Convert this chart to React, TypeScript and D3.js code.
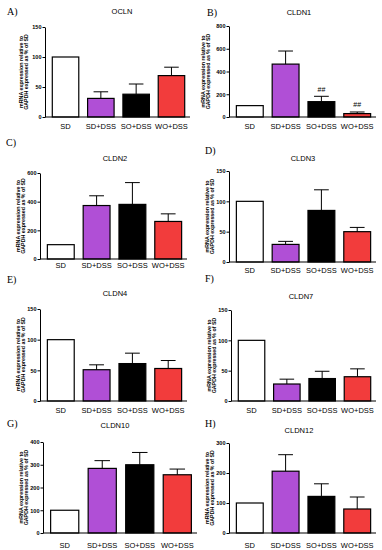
import React, { useEffect, useRef } from 'react'
import * as d3 from 'd3'

// groups and values
const groups = ['SD', 'SD+DSS', 'SO+DSS', 'WO+DSS']
const genes = ['OCLN', 'CLDN1', 'CLDN2', 'CLDN3', 'CLDN4', 'CLDN7', 'CLDN10', 'CLDN12']
const letters = ['A)', 'B)', 'C)', 'D)', 'E)', 'F)', 'G)', 'H)']
const means = [
  [100, 31, 38, 69],
  [100, 465, 135, 30],
  [100, 373, 381, 262],
  [100, 29, 85, 50],
  [100, 51, 61, 53],
  [100, 28, 37, 40],
  [100, 284, 300, 256],
  [100, 206, 122, 80]
]
const errs = [
  [0, 11, 17, 14],
  [0, 115, 47, 14],
  [0, 68, 152, 53],
  [0, 5, 34, 7],
  [0, 8, 17, 13],
  [0, 8, 12, 13],
  [0, 34, 54, 25],
  [0, 55, 42, 40]
]
const yMax = [150, 800, 600, 150, 150, 150, 400, 300]
const yStep = [50, 200, 200, 50, 50, 50, 100, 100]
const marks = [
  ['', '', '', ''],
  ['', '', '##', '##'],
  ['', '', '', ''],
  ['', '', '', ''],
  ['', '', '', ''],
  ['', '', '', ''],
  ['', '', '', ''],
  ['', '', '', '']
]

const colors = ['#ffffff', '#b04fd6', '#000000', '#f23c3c']

// where each panel sits on the page
const layout = [
  { lx: 7, ly: 11, tx: 122, ty: 11, x0: 45, x1: 190, yT: 27, yB: 117, labY: 126, ylx: 21 },
  { lx: 207, ly: 12, tx: 299, ty: 12, x0: 229, x1: 376, yT: 26, yB: 117, labY: 126, ylx: 203 },
  { lx: 6, ly: 142, tx: 115, ty: 158, x0: 40, x1: 187, yT: 173, yB: 259, labY: 265, ylx: 18 },
  { lx: 205, ly: 150, tx: 303, ty: 158, x0: 229, x1: 376, yT: 171, yB: 262, labY: 270, ylx: 207 },
  { lx: 7, ly: 279, tx: 115, ty: 293, x0: 40, x1: 187, yT: 309, yB: 401, labY: 410, ylx: 18 },
  { lx: 205, ly: 278, tx: 301, ty: 296, x0: 231, x1: 376, yT: 310, yB: 401, labY: 410, ylx: 209 },
  { lx: 7, ly: 423, tx: 115, ty: 425, x0: 43, x1: 197, yT: 442, yB: 533, labY: 545, ylx: 21 },
  { lx: 205, ly: 423, tx: 299, ty: 430, x0: 229, x1: 376, yT: 443, yB: 533, labY: 545, ylx: 207 }
]

const sans = 'Liberation Sans, Arial, sans-serif'

export default function App () {
  const ref = useRef<SVGSVGElement>(null)

  useEffect(() => {
    const svg = d3.select(ref.current)
    svg.selectAll('*').remove()
    svg.append('rect').attr('width', 382).attr('height', 550).attr('fill', '#fff')

    genes.forEach((gene, i) => {
      const L = layout[i]
      const g = svg.append('g')

      const x = d3.scaleBand().domain(groups).range([L.x0 + 2, L.x1]).paddingInner(0.25).paddingOuter(0.15)
      const y = d3.scaleLinear().domain([0, yMax[i]]).range([L.yB, L.yT])

      g.append('text')
        .attr('x', L.lx).attr('y', L.ly).attr('dy', '0.35em')
        .attr('font-family', 'Liberation Serif, Times New Roman, serif')
        .attr('font-size', 10)
        .text(letters[i])

      g.append('text')
        .attr('x', L.tx).attr('y', L.ty).attr('dy', '0.35em')
        .attr('text-anchor', 'middle')
        .attr('font-family', sans).attr('font-size', 7.5)
        .text(gene)

      // bars
      g.selectAll('rect.bar').data(groups).enter().append('rect')
        .attr('x', d => x(d)!)
        .attr('y', (d, j) => y(means[i][j]))
        .attr('width', x.bandwidth())
        .attr('height', (d, j) => L.yB - y(means[i][j]))
        .attr('fill', (d, j) => colors[j])
        .attr('stroke', '#000').attr('stroke-width', 1.2)

      // upper error bars
      const cap = x.bandwidth() * 0.55
      groups.forEach((grp, j) => {
        if (!errs[i][j]) return
        const cx = x(grp)! + x.bandwidth() / 2
        const top = y(means[i][j] + errs[i][j])
        g.append('line')
          .attr('x1', cx).attr('x2', cx)
          .attr('y1', y(means[i][j])).attr('y2', top)
          .attr('stroke', '#000').attr('stroke-width', 1)
        g.append('line')
          .attr('x1', cx - cap / 2).attr('x2', cx + cap / 2)
          .attr('y1', top).attr('y2', top)
          .attr('stroke', '#000').attr('stroke-width', 1)
        if (marks[i][j]) {
          g.append('text')
            .attr('x', cx).attr('y', top - 7).attr('dy', '0.35em')
            .attr('text-anchor', 'middle')
            .attr('font-family', sans).attr('font-size', 7)
            .text(marks[i][j])
        }
      })

      // y axis
      const ticks = d3.range(0, yMax[i] + 1, yStep[i])
      const yAxis = g.append('g')
        .attr('transform', 'translate(' + L.x0 + ',0)')
        .call(d3.axisLeft(y).tickValues(ticks).tickSize(2.5).tickPadding(1).tickSizeOuter(0))
      yAxis.select('.domain').attr('stroke-width', 1)
      yAxis.selectAll('text')
        .attr('font-family', sans).attr('font-size', 5.5).attr('font-weight', 'bold')

      // x axis line
      g.append('line')
        .attr('x1', L.x0).attr('x2', L.x1)
        .attr('y1', L.yB).attr('y2', L.yB)
        .attr('stroke', '#000').attr('stroke-width', 1.2)

      g.selectAll('text.cat').data(groups).enter().append('text')
        .attr('x', d => x(d)! + x.bandwidth() / 2)
        .attr('y', L.labY).attr('dy', '0.35em')
        .attr('text-anchor', 'middle')
        .attr('font-family', sans).attr('font-size', 7.5)
        .text(d => d)

      // y title, two lines rotated
      const midY = (L.yT + L.yB) / 2
      const ylab = ['mRNA expression relative to', 'GAPDH expressed as % of SD']
      ylab.forEach((t, k) => {
        g.append('text')
          .attr('transform', 'translate(' + (L.ylx + k * 5.5) + ',' + midY + ') rotate(-90)')
          .attr('dy', '0.35em')
          .attr('text-anchor', 'middle')
          .attr('font-family', sans).attr('font-size', 5.3).attr('font-weight', 'bold')
          .text(t)
      })
    })
  }, [])

  return (
    <svg ref={ref} width={382} height={550} style={{ position: 'absolute', left: 0, top: 0 }} />
  )
}
